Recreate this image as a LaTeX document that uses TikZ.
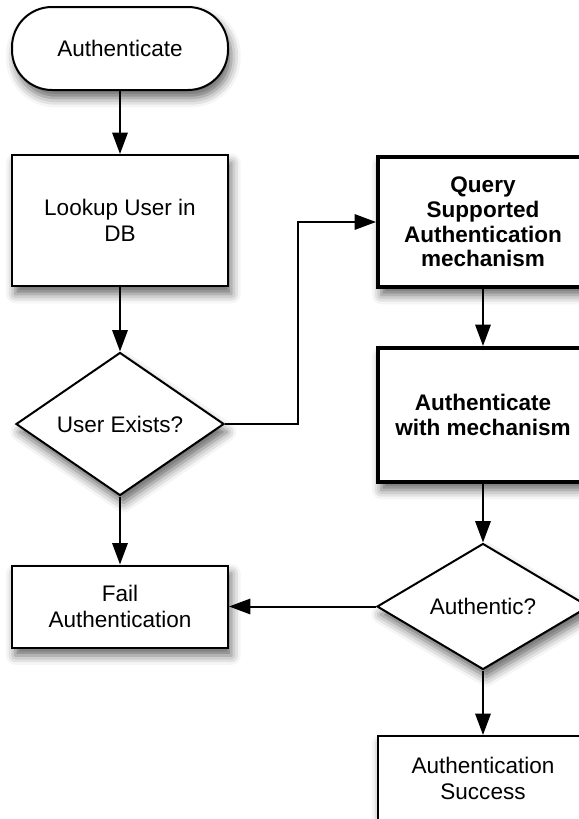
\documentclass[tikz,border=0pt]{standalone}
\usepackage{fontspec}
\setmainfont{Liberation Sans}
\usetikzlibrary{shapes.geometric,arrows.meta,shadows.blur}

\tikzset{
  every node/.style={font=\fontsize{16.9}{19.5}\selectfont, align=center, inner sep=0pt},
  soft/.style={blur shadow={shadow xshift=2.5pt, shadow yshift=-6pt, shadow blur radius=7pt, shadow opacity=60}},
  terminal/.style={draw, line width=1.5pt, fill=white, rounded corners=30pt,
                   minimum width=162pt, minimum height=62.25pt, soft},
  stepbox/.style={draw, line width=1.5pt, fill=white, soft},
  keybox/.style={draw, line width=3pt, fill=white, soft, font=\fontsize{16.9}{18.6}\selectfont\bfseries},
  decision/.style={draw, diamond, line width=1.5pt, fill=white, soft},
  flow/.style={line width=1.5pt, -{Triangle[length=16pt,width=11.5pt]}}
}

\begin{document}
\begin{tikzpicture}[x=0.75pt, y=-0.75pt]
  \useasboundingbox (0,0) rectangle (579,819);
  \clip (0,0) rectangle (579,819);

  % left column
  \node[terminal] (start) at (120,48.5) {Authenticate};
  \node[stepbox, minimum width=162pt, minimum height=98.25pt] (lookup) at (120,220.5) {Lookup User in\\DB};
  \node[decision, minimum width=156pt, minimum height=94.5pt] (exists) at (120,424) {User Exists?};
  \node[stepbox, minimum width=162pt, minimum height=61.5pt] (fail) at (120,606.5) {Fail\\Authentication};

  % right column
  \node[keybox, minimum width=157.5pt, minimum height=97.5pt] (query) at (483,222) {Query\\Supported\\Authentication\\mechanism};
  \node[keybox, minimum width=157.5pt, minimum height=100.5pt] (authmech) at (483,415) {Authenticate\\with mechanism};
  \node[decision, minimum width=159pt, minimum height=94.5pt] (authentic) at (483,606.5) {Authentic?};
  \node[stepbox, minimum width=157.5pt, minimum height=63pt] (success) at (483,778) {Authentication\\Success};

  \coordinate (bend) at (298,424);

  % connectors
  \draw[flow] (start) -- (lookup);
  \draw[flow] (lookup) -- (exists);
  \draw[flow] (exists) -- (fail);
  \draw[flow] (exists.east) -- (bend) |- (query.west);
  \draw[flow] (query) -- (authmech);
  \draw[flow] (authmech) -- (authentic);
  \draw[flow] (authentic.west) -- (fail.east);
  \draw[flow] (authentic) -- (success);
\end{tikzpicture}
\end{document}
